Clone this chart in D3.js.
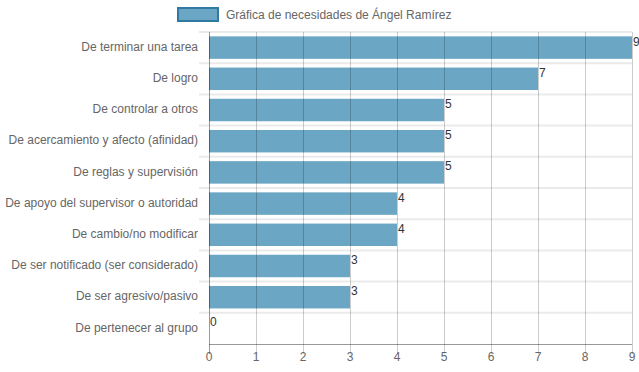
<!DOCTYPE html>
<html>
<head>
<meta charset="utf-8">
<script src="https://cdn.jsdelivr.net/npm/d3@7"></script>
<style>
  body { margin: 0; background: #fff; }
  text { font-family: "Liberation Sans", Arial, sans-serif; }
</style>
</head>
<body>
<div id="chart"></div>
<script>
// data
var categories = [
  "De terminar una tarea",
  "De logro",
  "De controlar a otros",
  "De acercamiento y afecto (afinidad)",
  "De reglas y supervisión",
  "De apoyo del supervisor o autoridad",
  "De cambio/no modificar",
  "De ser notificado (ser considerado)",
  "De ser agresivo/pasivo",
  "De pertenecer al grupo"
];
var values = [9, 7, 5, 5, 5, 4, 4, 3, 3, 0];
var xTicks = [0, 1, 2, 3, 4, 5, 6, 7, 8, 9];
var seriesName = "Gráfica de necesidades de Ángel Ramírez";

var svgWidth = 639;
var svgHeight = 372;
var margin = { top: 32, right: 7, bottom: 28, left: 209 };
var width = svgWidth - margin.left - margin.right;
var height = svgHeight - margin.top - margin.bottom;

var svg = d3.select("#chart")
  .append("svg")
  .attr("width", svgWidth)
  .attr("height", svgHeight);

var chartGroup = svg.append("g")
  .attr("transform", `translate(${margin.left}, ${margin.top})`);

// scales
var xScale = d3.scaleLinear()
  .domain([0, 9])
  .range([0, width]);

var yScale = d3.scaleBand()
  .domain(categories)
  .range([0, height]);

var barH = yScale.bandwidth() * 0.72;

// horizontal grid lines (category boundaries)
chartGroup.selectAll(".hgrid")
  .data(categories)
  .enter()
  .append("line")
  .attr("x1", -10)
  .attr("x2", width)
  .attr("y1", d => yScale(d))
  .attr("y2", d => yScale(d))
  .attr("stroke", "#ebebeb")
  .attr("stroke-width", 2);

// bars
chartGroup.selectAll(".bar")
  .data(values)
  .enter()
  .append("rect")
  .attr("x", xScale(0))
  .attr("y", (d, i) => yScale(categories[i]) + (yScale.bandwidth() - barH) / 2)
  .attr("width", d => xScale(d) - xScale(0))
  .attr("height", barH)
  .attr("fill", "#6ba6c5");

// vertical grid lines
chartGroup.selectAll(".vgrid")
  .data(xTicks)
  .enter()
  .append("line")
  .attr("x1", d => Math.round(xScale(d)) + 0.5)
  .attr("x2", d => Math.round(xScale(d)) + 0.5)
  .attr("y1", 0)
  .attr("y2", height + 10)
  .attr("stroke", d => d === 0 ? "rgba(0,0,0,0.4)" : "rgba(0,0,0,0.2)")
  .attr("stroke-width", 1);

// x axis line
chartGroup.append("line")
  .attr("x1", 0)
  .attr("x2", width)
  .attr("y1", height + 0.5)
  .attr("y2", height + 0.5)
  .attr("stroke", "rgba(0,0,0,0.4)");

// x tick labels
chartGroup.selectAll(".xlabel")
  .data(xTicks)
  .enter()
  .append("text")
  .attr("x", d => xScale(d))
  .attr("y", height + 17)
  .attr("text-anchor", "middle")
  .attr("font-size", 12)
  .attr("fill", "#666")
  .text(d => d);

// category labels
chartGroup.selectAll(".ylabel")
  .data(categories)
  .enter()
  .append("text")
  .attr("x", -11)
  .attr("y", d => yScale(d) + yScale.bandwidth() / 2 - 1)
  .attr("dy", "0.35em")
  .attr("text-anchor", "end")
  .attr("font-size", 12)
  .attr("fill", "#666")
  .text(d => d);

// value labels
chartGroup.selectAll(".vlabel")
  .data(values)
  .enter()
  .append("text")
  .attr("x", d => xScale(d) + 1)
  .attr("y", (d, i) => yScale(categories[i]) + yScale.bandwidth() / 2 - 2)
  .attr("font-size", 12)
  .attr("fill", "#333")
  .text(d => d);

// legend
svg.append("rect")
  .attr("x", 178)
  .attr("y", 8)
  .attr("width", 40)
  .attr("height", 13)
  .attr("fill", "#6ba6c5")
  .attr("stroke", "#2f79a3")
  .attr("stroke-width", 2);

svg.append("text")
  .attr("x", 226)
  .attr("y", 19)
  .attr("font-size", 12)
  .attr("fill", "#666")
  .text(seriesName);
</script>
</body>
</html>
